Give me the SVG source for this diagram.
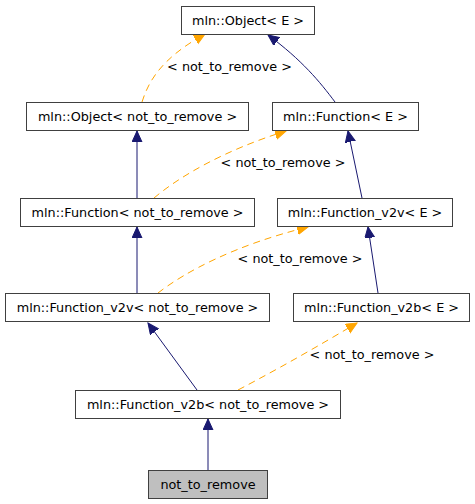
<svg xmlns="http://www.w3.org/2000/svg" width="475" height="504" viewBox="0 0 475 504">
<style>
.n rect{fill:#ffffff;stroke:#404040;stroke-width:1}
.n.g rect{fill:#bfbfbf}
text{font-family:"DejaVu Sans",sans-serif;font-size:12.8px;fill:#000;text-anchor:middle}
.s{fill:none;stroke:#191970;stroke-width:1}
.d{fill:none;stroke:#ffa500;stroke-width:1;stroke-dasharray:7,5}
</style>
<defs>
<marker id="an" markerUnits="userSpaceOnUse" markerWidth="13" markerHeight="12" refX="11" refY="5" orient="auto"><path d="M0,0 L11,5 L0,10 z" fill="#191970" stroke="#191970"/></marker>
<marker id="ao" markerUnits="userSpaceOnUse" markerWidth="13" markerHeight="12" refX="11" refY="5" orient="auto"><path d="M0,0 L11,5 L0,10 z" fill="#ffa500" stroke="#ffa500"/></marker>
</defs>
<rect width="475" height="504" fill="#ffffff"/>
<g id="edges">
<path class="d" d="M142,102 C149,80 162,58 205,34" marker-end="url(#ao)"/>
<path class="s" d="M335,102 C320,82 302,60 268,35" marker-end="url(#an)"/>
<path class="s" d="M137,198 L137,131" marker-end="url(#an)"/>
<path class="d" d="M154,198 C180,176 225,150 286,131" marker-end="url(#ao)"/>
<path class="s" d="M362,198 L348,131" marker-end="url(#an)"/>
<path class="s" d="M137,293 L137,227" marker-end="url(#an)"/>
<path class="d" d="M158,293 C185,272 235,245 308,227" marker-end="url(#ao)"/>
<path class="s" d="M378,293 L368,227" marker-end="url(#an)"/>
<path class="s" d="M197,390 L148,323" marker-end="url(#an)"/>
<path class="d" d="M238,390 C280,368 320,345 357,323" marker-end="url(#ao)"/>
<path class="s" d="M208,470 L208,419" marker-end="url(#an)"/>
<text x="229.5" y="71">&lt; not_to_remove &gt;</text>
<text x="283" y="167">&lt; not_to_remove &gt;</text>
<text x="300" y="263">&lt; not_to_remove &gt;</text>
<text x="372" y="359">&lt; not_to_remove &gt;</text>
</g>
<g id="n1" class="n"><rect x="181.5" y="6.5" width="133" height="28"/><text x="248" y="24.5">mln::Object&lt; E &gt;</text></g>
<g id="n2" class="n"><rect x="26.5" y="102.5" width="222" height="28"/><text x="137.5" y="120.5">mln::Object&lt; not_to_remove &gt;</text></g>
<g id="n3" class="n"><rect x="272.5" y="102.5" width="146" height="28"/><text x="345.5" y="120.5">mln::Function&lt; E &gt;</text></g>
<g id="n4" class="n"><rect x="20.5" y="198.5" width="234" height="28"/><text x="137.5" y="216.5">mln::Function&lt; not_to_remove &gt;</text></g>
<g id="n5" class="n"><rect x="277.5" y="198.5" width="175" height="28"/><text x="365" y="216.5">mln::Function_v2v&lt; E &gt;</text></g>
<g id="n6" class="n"><rect x="5.5" y="293.5" width="264" height="28"/><text x="137.5" y="311.5">mln::Function_v2v&lt; not_to_remove &gt;</text></g>
<g id="n7" class="n"><rect x="293.5" y="293.5" width="176" height="28"/><text x="381.5" y="311.5">mln::Function_v2b&lt; E &gt;</text></g>
<g id="n8" class="n"><rect x="75.5" y="390.5" width="265" height="28"/><text x="208" y="408.5">mln::Function_v2b&lt; not_to_remove &gt;</text></g>
<g id="n9" class="n g"><rect x="148.5" y="470.5" width="119" height="28"/><text x="208" y="488.5">not_to_remove</text></g>
</svg>
